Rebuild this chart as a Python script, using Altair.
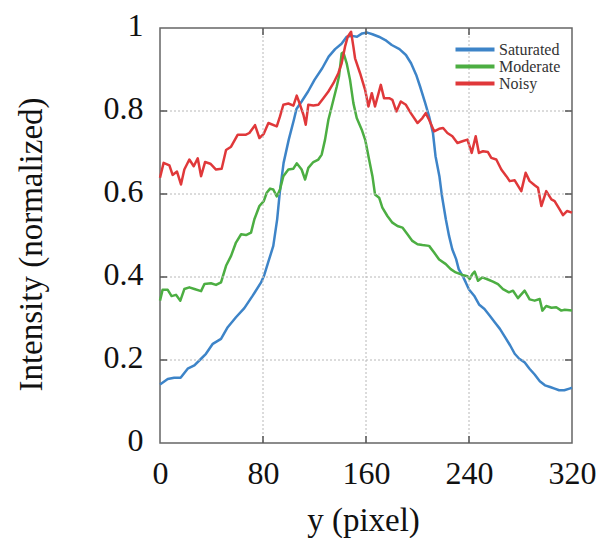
import altair as alt
import pandas as pd

series_names = ["Saturated", "Moderate", "Noisy"]
series_colors = ["#3d84c8", "#4cae42", "#e0383a"]

sat_x = [0, 6, 11, 16, 21.5, 26.7, 31.9, 35.7, 41, 47.4, 52.6, 59, 65.5, 72, 78.5,
         81, 84, 88, 91, 93, 96, 100, 104, 106, 110, 115, 120, 126, 131, 136, 141, 145,
         149, 153, 157, 161, 165, 170, 175, 180, 186, 191, 195, 199, 202, 206, 209, 212,
         214, 217, 219, 222, 224.5, 227, 230, 232, 235, 237.5, 240, 244, 248, 252, 256,
         260, 264, 268, 272, 275.5, 279, 283, 287, 291, 295, 299, 303, 306.5, 310, 314,
         318, 320]
sat_y = [0.141, 0.154, 0.157, 0.157, 0.179, 0.187, 0.203, 0.215, 0.239, 0.251, 0.279,
         0.303, 0.325, 0.355, 0.387, 0.405, 0.435, 0.475, 0.539, 0.603, 0.675, 0.731,
         0.779, 0.805, 0.823, 0.847, 0.875, 0.903, 0.931, 0.949, 0.962, 0.979, 0.981,
         0.979, 0.987, 0.989, 0.985, 0.979, 0.971, 0.959, 0.949, 0.935, 0.915, 0.887,
         0.859, 0.819, 0.787, 0.747, 0.691, 0.643, 0.595, 0.539, 0.499, 0.467, 0.443,
         0.419, 0.403, 0.387, 0.370, 0.355, 0.333, 0.323, 0.307, 0.291, 0.275, 0.255,
         0.235, 0.215, 0.203, 0.195, 0.179, 0.165, 0.149, 0.139, 0.135, 0.131, 0.127,
         0.127, 0.131, 0.133]

mod_x = [0, 2, 6, 9, 12.4, 15.8, 18.9, 22.8, 26.7, 31.9, 34.5, 39.6, 43.5, 47.4, 51.3,
         55.2, 59, 63, 66.8, 70.7, 73.3, 77.2, 80.6, 82.9, 85.5, 88, 90.7, 93.2, 95.8,
         99.7, 103.6, 106.2, 110, 112.7, 115.2, 119.1, 123, 125.6, 128.2, 130.8, 133.4,
         137.3, 139, 141.1, 142.4, 145, 147.6, 150.2, 152.8, 156.7, 159.5, 162.4, 165,
         167, 170.2, 172.7, 176.6, 180.5, 184.4, 188.3, 192.2, 196, 200, 203.8, 209,
         212.9, 216.8, 222, 225.8, 229.7, 234.9, 238.8, 240.5, 242.6, 244.4, 247, 250.3,
         254.7, 258.6, 262.5, 266.4, 271, 274.2, 278, 283.2, 287.1, 291, 294.9, 297, 300,
         304, 307.8, 311.7, 314.3, 320]
mod_y = [0.343, 0.369, 0.369, 0.354, 0.357, 0.343, 0.371, 0.375, 0.371, 0.366, 0.383,
         0.385, 0.381, 0.387, 0.427, 0.451, 0.483, 0.503, 0.501, 0.507, 0.539, 0.571,
         0.583, 0.603, 0.613, 0.611, 0.594, 0.611, 0.643, 0.659, 0.661, 0.674, 0.659,
         0.635, 0.663, 0.677, 0.683, 0.695, 0.731, 0.779, 0.811, 0.859, 0.883, 0.939,
         0.941, 0.915, 0.875, 0.819, 0.783, 0.755, 0.729, 0.683, 0.643, 0.599, 0.591,
         0.567, 0.547, 0.531, 0.523, 0.519, 0.503, 0.487, 0.479, 0.477, 0.475, 0.459,
         0.442, 0.431, 0.419, 0.411, 0.405, 0.402, 0.395, 0.407, 0.413, 0.391, 0.399,
         0.394, 0.389, 0.383, 0.371, 0.363, 0.367, 0.349, 0.367, 0.346, 0.343, 0.347,
         0.319, 0.330, 0.326, 0.327, 0.319, 0.321, 0.319]

noi_x = [0, 2.8, 7.3, 9.8, 13.2, 16.3, 18.9, 22.8, 26.2, 29.3, 31.9, 35, 39.1, 43.5,
         47.9, 51.3, 55.2, 60.4, 66.8, 69.4, 73.8, 77.2, 80.6, 84.2, 90.7, 93.2, 95.8,
         99.7, 103.6, 106.2, 108.8, 111.4, 113.2, 115.2, 119.1, 123, 126.9, 130.8, 134.7,
         138.5, 141.1, 143.7, 145.8, 148.4, 150.2, 151.5, 155.4, 159.3, 161.9, 164.5,
         167, 171.5, 174, 178, 180.5, 183.6, 187, 191, 194.8, 200, 203.8, 206.4, 209,
         212.9, 216.8, 219.9, 223.2, 227.1, 231, 234.9, 238.8, 242.1, 245.2, 247.7,
         250.9, 254.7, 257.3, 261.2, 265.1, 269, 271.6, 275.5, 280.6, 284, 287.1, 291,
         293.6, 296.2, 300, 304, 306.5, 310.4, 313, 316.1, 320]
noi_y = [0.639, 0.675, 0.669, 0.646, 0.654, 0.623, 0.659, 0.683, 0.667, 0.686, 0.643,
         0.677, 0.673, 0.659, 0.661, 0.706, 0.714, 0.743, 0.743, 0.747, 0.766, 0.735,
         0.745, 0.771, 0.763, 0.787, 0.815, 0.818, 0.813, 0.837, 0.815, 0.791, 0.767,
         0.815, 0.813, 0.815, 0.831, 0.847, 0.867, 0.891, 0.915, 0.955, 0.979, 0.991,
         0.955, 0.927, 0.891, 0.851, 0.811, 0.843, 0.811, 0.863, 0.831, 0.831, 0.827,
         0.799, 0.823, 0.815, 0.795, 0.771, 0.783, 0.795, 0.779, 0.751, 0.757, 0.759,
         0.747, 0.739, 0.723, 0.727, 0.731, 0.699, 0.739, 0.699, 0.703, 0.701, 0.687,
         0.683, 0.659, 0.643, 0.631, 0.633, 0.607, 0.651, 0.631, 0.621, 0.615, 0.571,
         0.607, 0.587, 0.583, 0.563, 0.549, 0.559, 0.555]

x_ticks = [0, 80, 160, 240, 320]
y_ticks = [0, 0.2, 0.4, 0.6, 0.8, 1]

rows = []
for name, xs, ys in zip(series_names, [sat_x, mod_x, noi_x], [sat_y, mod_y, noi_y]):
    for i, (a, b) in enumerate(zip(xs, ys)):
        rows.append({"series": name, "px": a, "val": b, "order": i})
df = pd.DataFrame(rows)
xt = pd.DataFrame({"px": x_ticks[1:-1]})
yt = pd.DataFrame({"val": y_ticks[1:-1]})

W, H = 412, 415
SERIF = "Liberation Serif"
xscale = alt.Scale(domain=[0, 320], nice=False, zero=False)
yscale = alt.Scale(domain=[0, 1], nice=False)

x_axis = alt.Axis(values=x_ticks, title="y (pixel)", labelPadding=15, labelFlush=False,
                  titleX=203, titleY=87, titleBaseline="alphabetic",
                  titleAnchor="middle", titleAlign="center")
y_axis = alt.Axis(values=y_ticks, format="~g", title="Intensity (normalized)",
                  labelPadding=17, labelOffset=-3, labelFlush=False,
                  titleX=-129, titleY=216, titleAngle=270,
                  titleBaseline="middle", titleAlign="center")
X = alt.X("px:Q", scale=xscale, axis=x_axis)
Y = alt.Y("val:Q", scale=yscale, axis=y_axis)

lines = alt.Chart(df).mark_line(strokeWidth=2.5, strokeJoin="round").encode(
    x=X, y=Y,
    color=alt.Color("series:N",
                    scale=alt.Scale(domain=series_names, range=series_colors),
                    sort=series_names,
                    legend=alt.Legend(title=None, orient="none", legendX=306.5, legendY=13,
                                      symbolType="M-3,0H3", symbolSize=169,
                                      symbolStrokeWidth=4, labelFont=SERIF,
                                      labelFontSize=16, labelColor="#333333",
                                      labelOffset=15.5, rowPadding=0, padding=0)),
    order="order:Q",
)

grid_x = alt.Chart(xt).mark_rule(color="#b8b8b8", strokeDash=[2, 2], strokeWidth=1).encode(x=X)
grid_y = alt.Chart(yt).mark_rule(color="#b8b8b8", strokeDash=[2, 2], strokeWidth=1).encode(y=Y)

tick_style = dict(color="#555555", strokeWidth=1.5)
tick_l = alt.Chart(yt).mark_rule(**tick_style).encode(y=Y, x=alt.value(0), x2=alt.value(7))
tick_r = alt.Chart(yt).mark_rule(**tick_style).encode(y=Y, x=alt.value(W - 7), x2=alt.value(W))
tick_b = alt.Chart(xt).mark_rule(**tick_style).encode(x=X, y=alt.value(H - 7), y2=alt.value(H))
tick_t = alt.Chart(xt).mark_rule(**tick_style).encode(x=X, y=alt.value(0), y2=alt.value(7))

chart = alt.layer(lines, grid_x, grid_y, tick_l, tick_r, tick_b, tick_t).properties(
    width=W, height=H, autosize="none",
    padding={"left": 152, "top": 20, "right": 26, "bottom": 95},
    background="white",
).configure_view(stroke="#666666", strokeWidth=1.5).configure_axis(
    labelFont=SERIF, labelFontSize=32, labelColor="#111111",
    titleFont=SERIF, titleFontSize=33, titleFontWeight="normal", titleColor="#111111",
    domain=False, ticks=False, grid=False,
).configure_legend(labelFont=SERIF, labelFontSize=16, labelColor="#333333")

chart.save("out.html", embed_options={"renderer": "svg", "actions": False})
